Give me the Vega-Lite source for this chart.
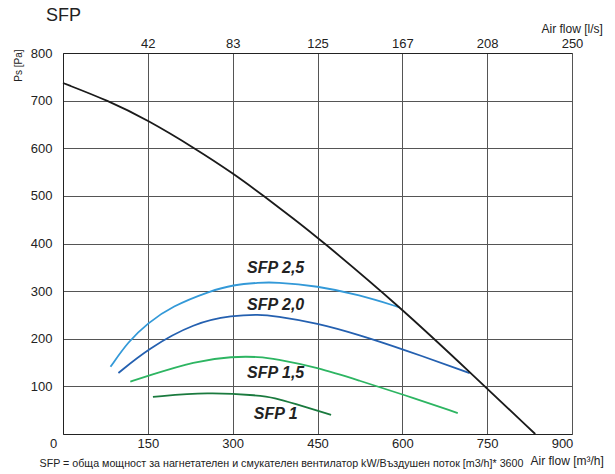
{
  "$schema": "https://vega.github.io/schema/vega-lite/v6.json",
  "width": 509,
  "height": 381,
  "autosize": {"type": "none"},
  "padding": {"left": 63, "top": 53, "right": 43, "bottom": 40},
  "title": {"text": "SFP", "anchor": "start", "frame": "group", "fontSize": 18, "fontWeight": "normal", "font": "Liberation Sans", "color": "#222222", "dx": -17, "dy": 3, "offset": 0},
  "datasets": {
    "curves": [
      {"series": "SFP 2,5", "q": 84, "p": 141},
      {"series": "SFP 2,5", "q": 115, "p": 194},
      {"series": "SFP 2,5", "q": 150, "p": 233},
      {"series": "SFP 2,5", "q": 192, "p": 268},
      {"series": "SFP 2,5", "q": 262, "p": 301},
      {"series": "SFP 2,5", "q": 300, "p": 313},
      {"series": "SFP 2,5", "q": 348, "p": 318},
      {"series": "SFP 2,5", "q": 374, "p": 319},
      {"series": "SFP 2,5", "q": 450, "p": 311},
      {"series": "SFP 2,5", "q": 524, "p": 292},
      {"series": "SFP 2,5", "q": 595, "p": 266},
      {"series": "SFP 2,0", "q": 98, "p": 128},
      {"series": "SFP 2,0", "q": 150, "p": 179},
      {"series": "SFP 2,0", "q": 233, "p": 234},
      {"series": "SFP 2,0", "q": 300, "p": 249},
      {"series": "SFP 2,0", "q": 347, "p": 251},
      {"series": "SFP 2,0", "q": 374, "p": 248},
      {"series": "SFP 2,0", "q": 450, "p": 233},
      {"series": "SFP 2,0", "q": 524, "p": 208},
      {"series": "SFP 2,0", "q": 601, "p": 178},
      {"series": "SFP 2,0", "q": 719, "p": 128},
      {"series": "SFP 1,5", "q": 119, "p": 110},
      {"series": "SFP 1,5", "q": 150, "p": 122},
      {"series": "SFP 1,5", "q": 233, "p": 153},
      {"series": "SFP 1,5", "q": 300, "p": 163},
      {"series": "SFP 1,5", "q": 348, "p": 162},
      {"series": "SFP 1,5", "q": 374, "p": 158},
      {"series": "SFP 1,5", "q": 450, "p": 140},
      {"series": "SFP 1,5", "q": 524, "p": 112},
      {"series": "SFP 1,5", "q": 601, "p": 83},
      {"series": "SFP 1,5", "q": 698, "p": 44},
      {"series": "SFP 1", "q": 159, "p": 78},
      {"series": "SFP 1", "q": 256, "p": 88},
      {"series": "SFP 1", "q": 348, "p": 81},
      {"series": "SFP 1", "q": 374, "p": 76},
      {"series": "SFP 1", "q": 406, "p": 65},
      {"series": "SFP 1", "q": 474, "p": 40},
      {"series": "fan", "q": 0, "p": 737},
      {"series": "fan", "q": 80, "p": 700},
      {"series": "fan", "q": 150, "p": 659},
      {"series": "fan", "q": 233, "p": 600},
      {"series": "fan", "q": 300, "p": 548},
      {"series": "fan", "q": 356, "p": 499},
      {"series": "fan", "q": 409, "p": 451},
      {"series": "fan", "q": 450, "p": 413},
      {"series": "fan", "q": 595, "p": 268},
      {"series": "fan", "q": 721, "p": 128},
      {"series": "fan", "q": 835, "p": 0}
    ],
    "labels": [
      {"label": "SFP 2,5", "q": 376, "p": 349},
      {"label": "SFP 2,0", "q": 376, "p": 271},
      {"label": "SFP 1,5", "q": 376, "p": 128},
      {"label": "SFP 1", "q": 376, "p": 42}
    ]
  },
  "layer": [
    {
      "data": {"name": "curves"},
      "transform": [{"filter": "datum.series != 'fan'"}],
      "mark": {"type": "line", "interpolate": "basis", "strokeWidth": 1.8},
      "encoding": {
        "x": {"field": "q", "type": "quantitative", "scale": {"domain": [0, 900], "nice": false},
          "axis": {"orient": "bottom", "values": [0, 150, 300, 450, 600, 750, 900], "grid": true, "gridColor": "#555555", "gridWidth": 1,
            "domainColor": "#222222", "ticks": false, "labelFlush": false, "labelPadding": 3, "labelFontSize": 13, "labelFont": "Liberation Sans", "labelColor": "#222222",
            "labelOffset": {"condition": {"test": "datum.value == 0 || datum.value == 900", "value": -10}, "value": 0},
            "title": "Air flow [m³/h]", "titleFont": "Liberation Sans", "titleFontSize": 12, "titleFontWeight": "normal", "titleColor": "#222222",
            "titleAlign": "left", "titleBaseline": "middle", "titleX": 467, "titleY": 26}},
        "y": {"field": "p", "type": "quantitative", "scale": {"domain": [0, 800], "nice": false},
          "axis": {"orient": "left", "values": [0, 100, 200, 300, 400, 500, 600, 700, 800], "grid": true, "gridColor": "#555555", "gridWidth": 1,
            "domainColor": "#222222", "ticks": false, "labelFlush": false, "labelPadding": 11, "labelFontSize": 13, "labelFont": "Liberation Sans", "labelColor": "#222222",
            "labelExpr": "datum.value == 0 ? '' : datum.label",
            "title": "Ps [Pa]", "titleFont": "Liberation Sans", "titleFontSize": 10, "titleFontWeight": "normal", "titleColor": "#222222",
            "titleAngle": -90, "titleAlign": "center", "titleBaseline": "middle", "titleX": -45, "titleY": 12}},
        "color": {"field": "series", "type": "nominal", "legend": null,
          "scale": {"domain": ["SFP 2,5", "SFP 2,0", "SFP 1,5", "SFP 1"], "range": ["#3399d8", "#2460b0", "#2db562", "#1a7a3e"]}}
      }
    },
    {
      "data": {"name": "curves"},
      "transform": [{"filter": "datum.series == 'fan'"}],
      "mark": {"type": "line", "interpolate": "basis", "strokeWidth": 1.8, "color": "#1a1a1a"},
      "encoding": {
        "x": {"field": "q", "type": "quantitative",
          "axis": {"orient": "top", "values": [0, 150, 300, 450, 600, 750, 900], "grid": false,
            "domainColor": "#222222", "ticks": false, "labelFlush": false, "labelPadding": 3, "labelFontSize": 13, "labelFont": "Liberation Sans", "labelColor": "#222222",
            "labelExpr": "datum.value == 0 ? '' : format(datum.value / 3.6, '.0f')",
            "title": "Air flow [l/s]", "titleFont": "Liberation Sans", "titleFontSize": 12, "titleFontWeight": "normal", "titleColor": "#222222",
            "titleAlign": "left", "titleBaseline": "middle", "titleX": 478, "titleY": -25}},
        "y": {"field": "p", "type": "quantitative",
          "axis": {"orient": "right", "domain": false, "ticks": false, "labels": false, "grid": false,
            "title": "SFP = обща мощност за нагнетателен и смукателен вентилатор kW/Въздушен поток [m3/h]* 3600",
            "titleFont": "Liberation Sans", "titleFontSize": 10.7, "titleFontWeight": "normal", "titleColor": "#222222",
            "titleAngle": 0, "titleAlign": "left", "titleBaseline": "middle", "titleX": -533, "titleY": 410}}
      }
    },
    {
      "data": {"name": "labels"},
      "mark": {"type": "text", "font": "Liberation Sans", "fontSize": 16, "fontWeight": "bold", "fontStyle": "italic", "color": "#222222", "align": "center", "baseline": "middle"},
      "encoding": {
        "x": {"field": "q", "type": "quantitative", "axis": null},
        "y": {"field": "p", "type": "quantitative", "axis": null},
        "text": {"field": "label"}
      }
    }
  ],
  "resolve": {"axis": {"x": "independent", "y": "independent"}},
  "config": {"view": {"stroke": null}, "font": "Liberation Sans"}
}
